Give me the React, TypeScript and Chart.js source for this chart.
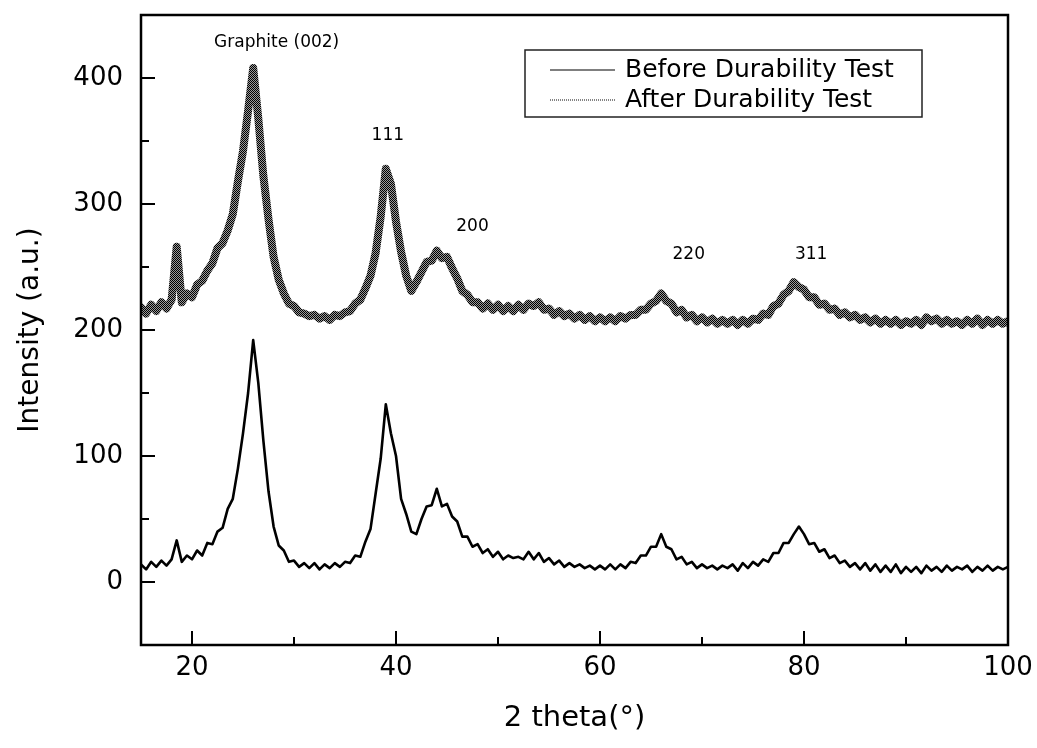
import React, { useEffect, useRef } from "react";
import { Chart, registerables } from "chart.js";

Chart.register(...registerables);

// Sampling grid of the 2-theta axis (degrees)
const X_START = 15;
const X_STEP = 0.5;

const seriesLabels = ["Before Durability Test", "After Durability Test"];

// Intensity, one value per 0.5 degree from 15 to 100
const beforeValues = [
  14, 10, 16, 12, 17, 13, 18, 33, 16, 21,
  18, 25, 21, 31, 30, 40, 43, 58, 66, 90,
  118, 150, 192, 158, 112, 72, 44, 29, 25, 16,
  17, 12, 15, 11, 15, 10, 14, 11, 15, 12,
  16, 15, 21, 20, 32, 42, 70, 98, 141, 118,
  100, 66, 54, 40, 38, 50, 60, 61, 74, 60,
  62, 52, 48, 36, 36, 28, 30, 23, 26, 20,
  24, 18, 21, 19, 20, 18, 24, 18, 23, 16,
  19, 14, 17, 12, 15, 12, 14, 11, 13, 10,
  13, 10, 14, 10, 14, 11, 16, 15, 21, 21,
  28, 28, 38, 28, 26, 18, 20, 14, 16, 11,
  14, 11, 13, 10, 13, 11, 14, 9, 15, 11,
  16, 13, 18, 16, 23, 23, 31, 31, 38, 44,
  38, 30, 31, 24, 26, 19, 21, 15, 17, 12,
  15, 10, 15, 9, 14, 8, 13, 8, 14, 7,
  12, 8, 12, 7, 13, 9, 12, 8, 13, 9,
  12, 10, 13, 8, 12, 9, 13, 9, 12, 10,
  12,
];

const afterValues = [
  218, 213, 220, 215, 222, 217, 224, 266, 222, 229,
  226, 236, 239, 247, 253, 265, 269, 279, 292, 318,
  342, 374, 408, 368, 322, 288, 258, 240, 229, 221,
  219, 214, 213, 211, 212, 209, 211, 208, 212, 211,
  214, 215, 221, 224, 233, 243, 261, 290, 328, 316,
  286, 262, 243, 231, 238, 246, 254, 255, 263, 257,
  258, 249, 241, 231, 228, 222, 222, 217, 221, 216,
  220, 215, 219, 215, 220, 216, 221, 219, 222, 216,
  217, 212, 215, 211, 213, 209, 212, 208, 211, 207,
  210, 207, 210, 207, 211, 209, 212, 212, 216, 216,
  221, 223, 229, 223, 221, 214, 216, 210, 212, 207,
  210, 206, 209, 205, 208, 205, 208, 204, 208, 205,
  209, 208, 213, 212, 219, 221, 228, 231, 238, 234,
  232, 226, 226, 220, 221, 216, 217, 212, 214, 210,
  212, 208, 210, 206, 209, 205, 208, 205, 208, 204,
  207, 205, 208, 204, 210, 207, 209, 205, 208, 205,
  207, 204, 208, 205, 209, 204, 208, 205, 208, 205,
  207,
];

const xTicks = [20, 40, 60, 80, 100];
const xMinorTicks = [30, 50, 70, 90];
const yTicks = [0, 100, 200, 300, 400];
const yMinorTicks = [50, 150, 250, 350];

const peakLabels = ["Graphite (002)", "111", "200", "220", "311"];
const peakLabelX = [28.3, 39.2, 47.5, 68.7, 80.7];
const peakLabelY = [428, 354, 282, 260, 260];

const FONT = '"DejaVu Sans", "Liberation Sans", sans-serif';

const decorPlugin = {
  id: "decor",
  afterDatasetsDraw(chart: any) {
    const { ctx, chartArea, scales } = chart;
    const { left, right, top, bottom } = chartArea;
    const xs = scales.x;
    const ys = scales.y;
    ctx.save();

    // frame
    ctx.strokeStyle = "#000";
    ctx.lineWidth = 2.5;
    ctx.strokeRect(left, top, right - left, bottom - top);

    // inward ticks
    ctx.lineWidth = 2;
    ctx.beginPath();
    xTicks.forEach((v) => {
      const p = Math.round(xs.getPixelForValue(v));
      ctx.moveTo(p, bottom);
      ctx.lineTo(p, bottom - 14);
    });
    xMinorTicks.forEach((v) => {
      const p = Math.round(xs.getPixelForValue(v));
      ctx.moveTo(p, bottom);
      ctx.lineTo(p, bottom - 8);
    });
    yTicks.forEach((v) => {
      const p = Math.round(ys.getPixelForValue(v));
      ctx.moveTo(left, p);
      ctx.lineTo(left + 14, p);
    });
    yMinorTicks.forEach((v) => {
      const p = Math.round(ys.getPixelForValue(v));
      ctx.moveTo(left, p);
      ctx.lineTo(left + 8, p);
    });
    ctx.stroke();

    // peak annotations
    ctx.fillStyle = "#000";
    ctx.font = `17px ${FONT}`;
    ctx.textAlign = "center";
    ctx.textBaseline = "middle";
    peakLabels.forEach((t, i) => {
      ctx.fillText(t, xs.getPixelForValue(peakLabelX[i]), ys.getPixelForValue(peakLabelY[i]));
    });

    // legend box
    const bx = right - 86 - 397;
    const by = top + 35;
    ctx.lineWidth = 1.5;
    ctx.strokeStyle = "#222";
    ctx.strokeRect(bx, by, 397, 67);
    ctx.font = `25px ${FONT}`;
    ctx.textAlign = "left";
    const rows = [by + 20, by + 50];
    ctx.lineWidth = 1.2;
    ctx.strokeStyle = "#000";
    ctx.beginPath();
    ctx.moveTo(bx + 25, rows[0]);
    ctx.lineTo(bx + 90, rows[0]);
    ctx.stroke();
    ctx.setLineDash([1, 1]);
    ctx.strokeStyle = "#333";
    ctx.beginPath();
    ctx.moveTo(bx + 25, rows[1]);
    ctx.lineTo(bx + 90, rows[1]);
    ctx.stroke();
    ctx.setLineDash([]);
    ctx.fillStyle = "#000";
    ctx.fillText(seriesLabels[0], bx + 100, rows[0]);
    ctx.fillText(seriesLabels[1], bx + 100, rows[1]);

    ctx.restore();
  },
};

export default function App() {
  const canvasRef = useRef<HTMLCanvasElement | null>(null);

  useEffect(() => {
    const canvas = canvasRef.current;
    if (!canvas) return;
    const ctx = canvas.getContext("2d");
    if (!ctx) return;

    // halftone pattern for the "after" trace
    const pc = document.createElement("canvas");
    pc.width = 2;
    pc.height = 2;
    const pctx = pc.getContext("2d")!;
    pctx.fillStyle = "#9a9a9a";
    pctx.fillRect(0, 0, 2, 2);
    pctx.fillStyle = "#000";
    pctx.fillRect(0, 0, 1, 1);
    pctx.fillRect(1, 1, 1, 1);
    const pattern = ctx.createPattern(pc, "repeat");

    const beforeData = beforeValues.map((v, i) => ({ x: X_START + i * X_STEP, y: v }));
    const afterData = afterValues.map((v, i) => ({ x: X_START + i * X_STEP, y: v }));

    Chart.defaults.font.family = FONT;
    Chart.defaults.color = "#000";

    const chart = new Chart(ctx, {
      type: "line",
      data: {
        datasets: [
          {
            label: seriesLabels[0],
            data: beforeData,
            borderColor: "#000",
            borderWidth: 2.6,
            pointRadius: 0,
            tension: 0,
            borderJoinStyle: "round",
          },
          {
            label: seriesLabels[1],
            data: afterData,
            borderColor: pattern as any,
            borderWidth: 8,
            pointRadius: 0,
            tension: 0,
            borderJoinStyle: "round",
            borderCapStyle: "round",
          },
        ],
      },
      options: {
        responsive: false,
        animation: false,
        layout: { padding: { top: 15, right: 29, left: 0, bottom: 0 } },
        plugins: {
          legend: { display: false },
          tooltip: { enabled: false },
        },
        scales: {
          x: {
            type: "linear",
            min: 15,
            max: 100,
            afterBuildTicks: (s: any) => {
              s.ticks = xTicks.map((v) => ({ value: v }));
            },
            afterFit: (s: any) => {
              s.height = 103;
              s.paddingLeft = 0;
              s.paddingRight = 0;
            },
            grid: { display: false, drawTicks: false },
            border: { display: false },
            ticks: {
              font: { size: 26, family: FONT },
              color: "#000",
              padding: 8,
              maxRotation: 0,
            },
            title: {
              display: true,
              text: "2 theta(°)",
              font: { size: 29, family: FONT },
              color: "#000",
              padding: { top: 0, bottom: 12 },
            },
          },
          y: {
            type: "linear",
            min: -50,
            max: 450,
            afterBuildTicks: (s: any) => {
              s.ticks = yTicks.map((v) => ({ value: v }));
            },
            afterFit: (s: any) => {
              s.width = 141;
              s.paddingTop = 0;
              s.paddingBottom = 0;
            },
            grid: { display: false, drawTicks: false },
            border: { display: false },
            ticks: {
              font: { size: 26, family: FONT },
              color: "#000",
              padding: 18,
            },
            title: {
              display: true,
              text: "Intensity (a.u.)",
              font: { size: 28, family: FONT },
              color: "#000",
              padding: { top: 14, bottom: 0 },
            },
          },
        },
      },
      plugins: [decorPlugin],
    });

    return () => chart.destroy();
  }, []);

  return (
    <div style={{ position: "fixed", left: 0, top: 0, width: 1037, height: 748, background: "#fff" }}>
      <canvas ref={canvasRef} width={1037} height={748} style={{ display: "block" }} />
    </div>
  );
}
